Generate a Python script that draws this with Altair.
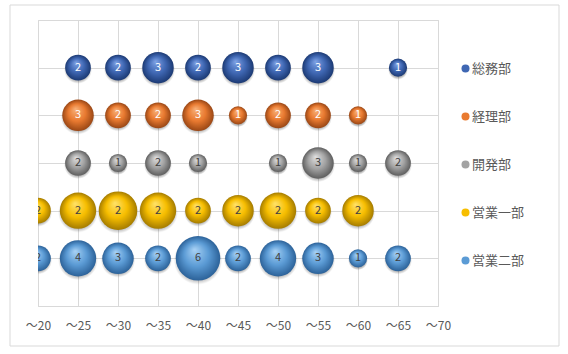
import altair as alt
import pandas as pd

depts = ["総務部", "経理部", "開発部", "営業一部", "営業二部"]
dept_rows = [5, 4, 3, 2, 1]
ages = [20, 25, 30, 35, 40, 45, 50, 55, 60, 65]

# bubble sizes per department (None = no bubble)
size_soumu = [None, 2, 2, 3, 2, 3, 2, 3, None, 1]
size_keiri = [None, 3, 2, 2, 3, 1, 2, 2, 1, None]
size_kaihatsu = [None, 2, 1, 2, 1, None, 1, 3, 1, 2]
size_eigyo1 = [2, 4, 4.5, 4, 2, 3, 4, 2, 3, None]
size_eigyo2 = [2, 4, 3, 2, 6, 2, 4, 3, 1, 2]

# data labels shown on the bubbles
label_soumu = [None, 2, 2, 3, 2, 3, 2, 3, None, 1]
label_keiri = [None, 3, 2, 2, 3, 1, 2, 2, 1, None]
label_kaihatsu = [None, 2, 1, 2, 1, None, 1, 3, 1, 2]
label_eigyo1 = [2, 2, 2, 2, 2, 2, 2, 2, 2, None]
label_eigyo2 = [2, 4, 3, 2, 6, 2, 4, 3, 1, 2]

all_sizes = [size_soumu, size_keiri, size_kaihatsu, size_eigyo1, size_eigyo2]
all_labels = [label_soumu, label_keiri, label_kaihatsu, label_eigyo1, label_eigyo2]

rows = []
for d, r, ss, ll in zip(depts, dept_rows, all_sizes, all_labels):
    for a, s, l in zip(ages, ss, ll):
        if s is None:
            continue
        rows.append({"dept": d, "row": r, "age": a, "size": s, "label": l})
df = pd.DataFrame(rows)

FONT = "Noto Sans CJK JP"
base_colors = ["#3f67b3", "#e97a30", "#a3a3a3", "#f7be00", "#5b9bd5"]
hi_colors = ["#7fa3e6", "#f8b27a", "#e0e0e0", "#ffe26a", "#a9d2f5"]
dark_colors = ["#1c3a74", "#9a4715", "#5e5e5e", "#a57c00", "#2c6299"]

x_enc = alt.X("age:Q", scale=alt.Scale(domain=[20, 70], nice=False, zero=False),
              axis=alt.Axis(values=list(range(20, 75, 5)), labelExpr="'～' + datum.value",
                            ticks=False, domain=False, title=None, labelPadding=14,
                            labelFlush=False, labelOverlap=False,
                            labelFontSize=12, labelColor="#595959", labelFont=FONT,
                            gridColor="#d9d9d9"))
y_enc = alt.Y("row:Q", scale=alt.Scale(domain=[0, 6], nice=False),
              axis=alt.Axis(values=[0, 1, 2, 3, 4, 5, 6], labels=False, ticks=False,
                            domain=False, title=None, gridColor="#d9d9d9"))
size_scale = alt.Scale(domain=[0, 6], range=[0, 1980], zero=True)

layers = []

border = alt.Chart(pd.DataFrame({"a": [0]})).mark_rect(
    fill=None, stroke="#d9d9d9", strokeWidth=1).encode(
    x=alt.value(-28), x2=alt.value(521), y=alt.value(-15), y2=alt.value(326))
layers.append(border)

shadow_grad = alt.RadialGradient(
    gradient="radial", x1=0.5, y1=0.5, r1=0.0, x2=0.5, y2=0.5, r2=0.5,
    stops=[alt.GradientStop(color="rgba(0,0,0,0.35)", offset=0.0),
           alt.GradientStop(color="rgba(0,0,0,0.30)", offset=0.78),
           alt.GradientStop(color="rgba(0,0,0,0)", offset=1.0)])
shadow = (alt.Chart(df)
          .transform_calculate(ssize="datum.size * 1.18")
          .mark_circle(fill=shadow_grad, opacity=1, clip=True)
          .encode(x=x_enc, y=y_enc, yOffset=alt.value(2),
                  size=alt.Size("ssize:Q", scale=size_scale, legend=None)))
layers.append(shadow)

for d, b, h, k in zip(depts, base_colors, hi_colors, dark_colors):
    grad = alt.RadialGradient(
        gradient="radial", x1=0.42, y1=0.3, r1=0.0, x2=0.5, y2=0.5, r2=0.5,
        stops=[alt.GradientStop(color=h, offset=0.0),
               alt.GradientStop(color=b, offset=0.55),
               alt.GradientStop(color=k, offset=1.0)])
    layers.append(
        alt.Chart(df).transform_filter(alt.datum.dept == d)
        .mark_circle(fill=grad, opacity=1, clip=True)
        .encode(x=x_enc, y=y_enc,
                size=alt.Size("size:Q", scale=size_scale, legend=None))
    )

legend_layer = alt.Chart(df).mark_circle(opacity=0).encode(
    x=x_enc, y=y_enc,
    color=alt.Color("dept:N", scale=alt.Scale(domain=depts, range=base_colors),
                    sort=depts,
                    legend=alt.Legend(title=None, orient="none", legendX=421, legendY=42,
                                      symbolType="circle", symbolSize=64,
                                      symbolOpacity=1, symbolStrokeWidth=0,
                                      labelFontSize=13, labelColor="#595959",
                                      labelFont=FONT, rowPadding=34, labelOffset=0)))
layers.append(legend_layer)

text_layer = alt.Chart(df).mark_text(fontSize=11, font=FONT, clip=True, baseline="middle").encode(
    x=x_enc, y=y_enc, text="label:Q",
    color=alt.condition(alt.FieldOneOfPredicate(field="dept", oneOf=["総務部", "経理部"]),
                        alt.value("white"), alt.value("#404040")))
layers.append(text_layer)

chart = alt.layer(*layers).properties(
    width=400, height=286,
    padding={"left": 38, "top": 20, "right": 130, "bottom": 48},
    autosize=alt.AutoSizeParams(type="none"),
    background="white",
).configure_view(stroke="#d9d9d9", strokeWidth=1)

chart.save("out.html", embed_options={"renderer": "svg", "actions": False})
